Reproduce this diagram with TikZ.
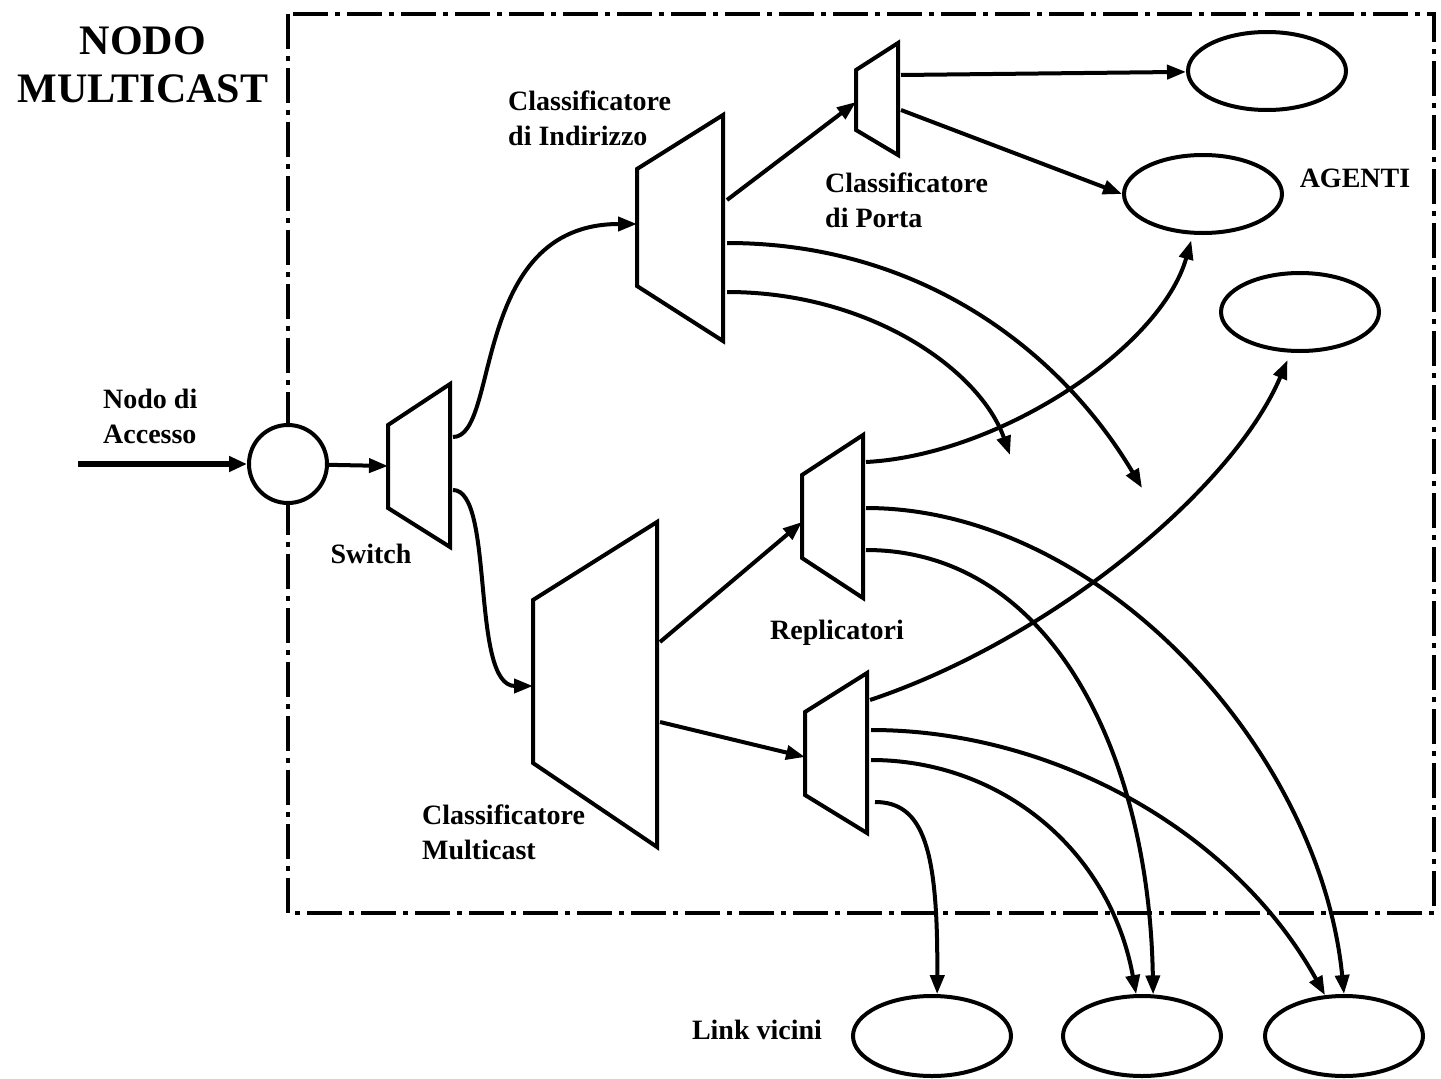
\documentclass[tikz,border=0pt]{standalone}
\usepackage{fontspec}
\setmainfont{Liberation Serif}
\usetikzlibrary{arrows.meta,shapes.geometric}

\begin{document}
\begin{tikzpicture}[x=1pt,y=-1pt,
        linea/.style={line width=4pt},
        freccia/.style={line width=4pt,-{Triangle[length=19pt,width=14pt]}},
        agente/.style={draw,ellipse,line width=4pt,minimum width=158pt,minimum height=78pt},
        etichetta/.style={font=\bfseries\fontsize{28}{35}\selectfont,align=left,inner sep=0pt}]

        % Bordo
        \useasboundingbox (0,0) rectangle (1441,1079);
        % Riquadro del nodo multicast
        \draw[line width=4pt,dash pattern=on 35pt off 7pt on 5pt off 7pt] (288,14) rectangle (1434,913);
        \node[etichetta,align=center,font=\bfseries\fontsize{42}{48}\selectfont] (titolo) at (143,65) {NODO\\MULTICAST};

        % Nodo di accesso
        \coordinate (ingresso) at (78,464);
        \node[draw,circle,fill=white,line width=4pt,minimum size=78pt,inner sep=0pt] (accesso) at (288,464) {};
        \node[etichetta,anchor=west] (lacc) at (103,416) {Nodo di\\Accesso};
        \draw[line width=6pt,-{Triangle[length=18pt,width=15pt]}] (ingresso) -- (accesso);

        % Switch
        \draw[linea] (388,425) -- (450,384) -- (450,547) -- (388,508) -- cycle;
        \coordinate (sw-in) at (388,466);
        \coordinate (sw-o1) at (453,437);
        \coordinate (sw-o2) at (453,490);
        \node[etichetta] (lsw) at (371,554) {Switch};

        % Classificatore di indirizzo
        \draw[linea] (637,169) -- (723,115) -- (723,341) -- (637,286) -- cycle;
        \coordinate (ind-in) at (637,224);
        \coordinate (ind-o1) at (727,200);
        \coordinate (ind-o2) at (727,243);
        \coordinate (ind-o3) at (727,292);
        \node[etichetta,anchor=west] (lind) at (508,118) {Classificatore\\di Indirizzo};

        % Classificatore di porta
        \draw[linea] (856,70) -- (898,43) -- (898,155) -- (856,130) -- cycle;
        \coordinate (pt-in) at (856,102);
        \coordinate (pt-o1) at (901,75);
        \coordinate (pt-o2) at (901,110);
        \node[etichetta,anchor=west] (lpt) at (825,200) {Classificatore\\di Porta};

        % Classificatore multicast
        \draw[linea] (533,600) -- (657,522) -- (657,847) -- (533,763) -- cycle;
        \coordinate (mc-in) at (533,686);
        \coordinate (mc-o1) at (660,642);
        \coordinate (mc-o2) at (660,722);
        \node[etichetta,anchor=west] (lmc) at (422,832) {Classificatore\\Multicast};

        % Replicatori
        \draw[linea] (802,475) -- (863,435) -- (863,598) -- (802,558) -- cycle;
        \coordinate (r1-in) at (802,522);
        \coordinate (r1-o1) at (866,462);
        \coordinate (r1-o2) at (866,508);
        \coordinate (r1-o3) at (866,550);
        \draw[linea] (805,712) -- (867,673) -- (867,833) -- (805,795) -- cycle;
        \coordinate (r2-in) at (805,757);
        \coordinate (r2-o1) at (870,700);
        \coordinate (r2-o2) at (871,730);
        \coordinate (r2-o3) at (871,760);
        \coordinate (r2-o4) at (875,802);
        \node[etichetta] (lrep) at (837,633) {Replicatori};

        % Agenti e link vicini
        \node[agente] (ag1) at (1267,71) {};
        \node[agente] (ag2) at (1203,194) {};
        \node[agente] (ag3) at (1300,312) {};
        \node[etichetta] (lag) at (1355,178) {AGENTI};
        \node[agente,minimum height=80pt] (lk1) at (932,1036) {};
        \node[agente,minimum height=80pt] (lk2) at (1142,1036) {};
        \node[agente,minimum height=80pt] (lk3) at (1344,1036) {};
        \node[etichetta] (llk) at (757,1030) {Link vicini};
        \coordinate (f1) at (1142,488);
        \coordinate (f2) at (1010,455);

        % Frecce
        \draw[freccia] (accesso) -- (sw-in);
        \draw[freccia] (sw-o1) .. controls +(47,0) and +(-167,0) .. (ind-in);
        \draw[freccia] (sw-o2) .. controls +(42,0) and +(-63,0) .. (mc-in);
        \draw[freccia] (ind-o1) -- (pt-in);
        \draw[freccia] (ind-o2) .. controls +(193,0) and +(-82,-138) .. (f1);
        \draw[freccia] (ind-o3) .. controls +(143,0) and +(-30,-85) .. (f2);
        \draw[freccia] (pt-o1) -- (ag1);
        \draw[freccia] (pt-o2) -- (ag2.west);
        \draw[freccia] (mc-o1) -- (r1-in);
        \draw[freccia] (mc-o2) -- (r2-in);
        \draw[freccia,shorten >=6pt] (r1-o1) .. controls +(134,-7) and +(-32,113) .. (ag2.-104);
        \draw[freccia] (r1-o2) .. controls +(234,0) and +(-24,-244) .. (lk3.north);
        \draw[freccia] (r1-o3) .. controls +(184,0) and +(-4,-242) .. (lk2.75);
        \draw[freccia,shorten >=8pt] (r2-o1) .. controls +(180,-60) and +(-58,137) .. (ag3.-103);
        \draw[freccia] (r2-o2) .. controls +(180,0) and +(-92,-166) .. (lk3.115);
        \draw[freccia] (r2-o3) .. controls +(130,0) and +(-26,-144) .. (lk2.98);
        \draw[freccia] (r2-o4) .. controls +(49,0) and +(1,-144) .. (lk1.83);
    \end{tikzpicture}
\end{document}
